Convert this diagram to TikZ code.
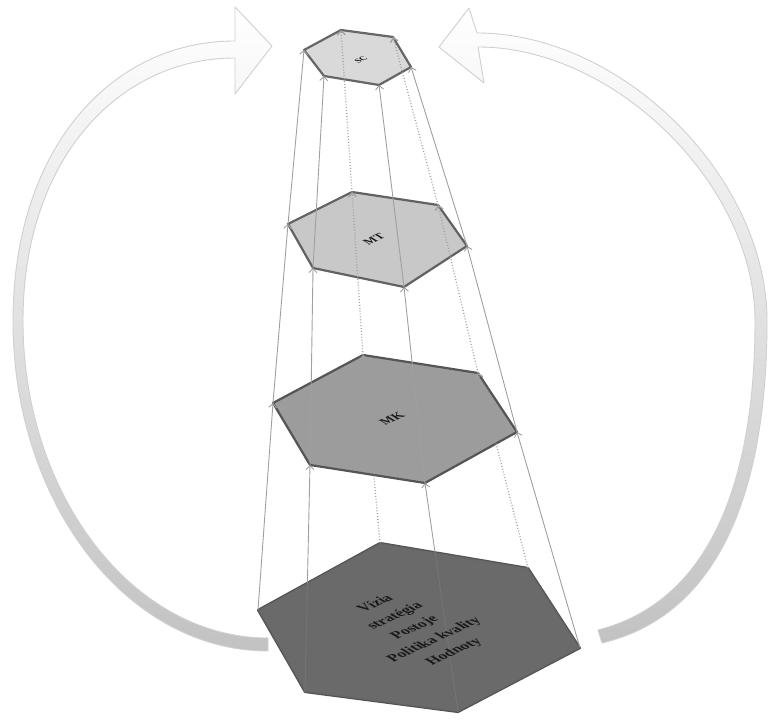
\documentclass[tikz,border=0pt]{standalone}
\usepackage{fontspec}
\setmainfont{Liberation Serif}
\usetikzlibrary{arrows.meta}
\definecolor{plateS}{HTML}{D9D9D9}
\definecolor{rimS}{HTML}{666666}
\definecolor{plateT}{HTML}{C8C8C8}
\definecolor{rimT}{HTML}{626262}
\definecolor{plateK}{HTML}{9C9C9C}
\definecolor{rimK}{HTML}{555555}
\definecolor{plateB}{HTML}{6A6A6A}
\definecolor{rimB}{HTML}{525252}
\definecolor{linkgray}{HTML}{A0A0A0}
\definecolor{arrowline}{HTML}{D0D0D0}
\definecolor{bandgray}{HTML}{C2C2C2}
\begin{document}
\begin{tikzpicture}[x=1pt,y=1pt,
  plate/.style={line width=2.2pt, line join=round},
  link/.style={draw=linkgray, line width=0.9pt, -{Straight Barb[length=4pt,width=8pt]}},
  hidden/.style={link, dotted, line width=1.3pt},
  bigarrow/.style={draw=arrowline, line width=0.9pt, line join=round, top color=white, middle color=white, bottom color=bandgray},
  btext/.style={transform shape, align=center, inner sep=0pt, text=black!90, font=\bfseries\fontsize{15}{23}\selectfont},
  lbl/.style={transform shape, inner sep=0pt, text=black!90, font=\bfseries}
]
\useasboundingbox (0,0) rectangle (769,723);
\fill[white] (0,0) rectangle (769,723);

% big curved arrows
\path[bigarrow] (268,72) .. controls (127,72) and (13,220) .. (13,402)
  .. controls (13,573) and (110,682) .. (235,682)
  -- (235,716) -- (272,677) -- (235,629) -- (235,665)
  .. controls (118,665) and (23,563) .. (23,402)
  .. controls (23,228) and (133,85) .. (268,85) -- cycle;
\path[bigarrow] (477,690) .. controls (622,690) and (767,546) .. (767,402)
  .. controls (767,233) and (720,108) .. (602,80)
  -- (598,93) .. controls (708,121) and (755,238) .. (755,402)
  .. controls (755,538) and (615,676) .. (478,676)
  -- (484,640) -- (439,676) -- (469,715) -- cycle;

% vertices
\coordinate (b0) at (580,75);  \coordinate (b1) at (528,155);
\coordinate (b2) at (380,180); \coordinate (b3) at (258,113);
\coordinate (b4) at (305,31);  \coordinate (b5) at (458,11);
\coordinate (k0) at (517,291); \coordinate (k1) at (478,350);
\coordinate (k2) at (363,368); \coordinate (k3) at (273,320);
\coordinate (k4) at (310,258); \coordinate (k5) at (425,240);
\coordinate (t0) at (467,477); \coordinate (t1) at (438,518);
\coordinate (t2) at (352,531); \coordinate (t3) at (288,499);
\coordinate (t4) at (313,455); \coordinate (t5) at (404,436);
\coordinate (s0) at (411,656); \coordinate (s1) at (393,686);
\coordinate (s2) at (341,693); \coordinate (s3) at (304,673);
\coordinate (s4) at (324,647); \coordinate (s5) at (379,638);

% plates
\filldraw[plate, fill=plateB, draw=rimB] (b0)--(b1)--(b2)--(b3)--(b4)--(b5)--cycle;
\filldraw[plate, fill=plateK, draw=rimK] (k0)--(k1)--(k2)--(k3)--(k4)--(k5)--cycle;
\filldraw[plate, fill=plateT, draw=rimT] (t0)--(t1)--(t2)--(t3)--(t4)--(t5)--cycle;
\filldraw[plate, fill=plateS, draw=rimS] (s0)--(s1)--(s2)--(s3)--(s4)--(s5)--cycle;

% connectors
\foreach \i in {0,3,4,5} {
  \draw[link] (b\i) -- (k\i);
  \draw[link] (k\i) -- (t\i);
  \draw[link] (t\i) -- (s\i);
}
\foreach \i in {1,2} {
  \draw[hidden] (b\i) -- (k\i);
  \draw[hidden] (k\i) -- (t\i);
  \draw[hidden] (t\i) -- (s\i);
}
% fade the links seen through the base plate
\fill[plateB, fill opacity=0.8] (b0)--(b1)--(b2)--(b3)--(b4)--(b5)--cycle;

% texts
\begin{scope}[shift={(415,95)}, cm={0.906,0.423,-0.853,0.52,(0,0)}]
  \node[btext] (basetext) at (0,0) {Vízia\\stratégia\\Postoje\\Politika kvality\\Hodnoty};
\end{scope}
\begin{scope}[shift={(392,304)}, cm={0.906,0.423,-0.853,0.52,(0,0)}]
  \node[lbl, font=\bfseries\fontsize{13}{15}\selectfont] (mk) at (0,0) {MK};
\end{scope}
\begin{scope}[shift={(374,484)}, cm={0.906,0.423,-0.853,0.52,(0,0)}]
  \node[lbl, font=\bfseries\fontsize{12}{14}\selectfont] (mt) at (0,0) {MT};
\end{scope}
\begin{scope}[shift={(361,663)}, cm={0.906,0.423,-0.853,0.52,(0,0)}]
  \node[lbl, font=\bfseries\fontsize{8.5}{10}\selectfont] (sc) at (0,0) {SC};
\end{scope}
\end{tikzpicture}
\end{document}
